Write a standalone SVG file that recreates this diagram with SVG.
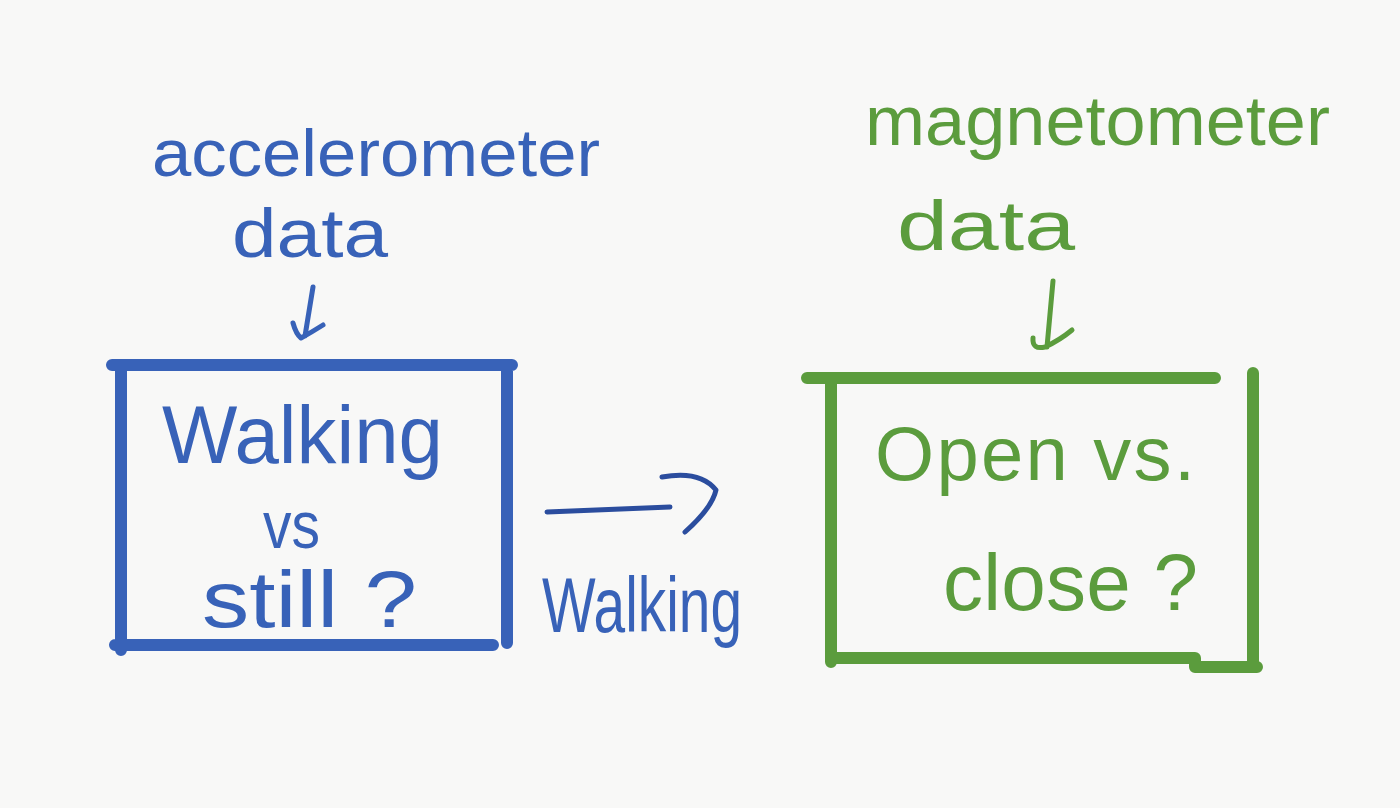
<svg xmlns="http://www.w3.org/2000/svg" width="1400" height="808" viewBox="0 0 1400 808">
<style>
.bl{stroke:#3862b8;fill:none;stroke-linecap:round;stroke-linejoin:round}
.gr{stroke:#5b9c3d;fill:none;stroke-linecap:round;stroke-linejoin:round}
.box{stroke-width:12}
.pen{stroke-width:5}
.tb{fill:#3862b8;font-family:"Liberation Sans","DejaVu Sans",sans-serif}
.tg{fill:#5b9c3d;font-family:"Liberation Sans","DejaVu Sans",sans-serif}
</style>
<rect width="1400" height="808" fill="#f8f8f7"/>
<g id="accelerometer-data">
<text class="tb" x="152" y="176" font-size="66" textLength="448" lengthAdjust="spacingAndGlyphs">accelerometer</text>
<text class="tb" x="232" y="257" font-size="68" textLength="156" lengthAdjust="spacingAndGlyphs">data</text>
<path class="bl pen" d="M313,287 L305,336 M293,323 Q296,334 301,338 Q312,332 323,325"/>
</g>
<g id="walking-vs-still">
<path class="bl box" d="M112,365 L512,365 M121,365 L121,650 M115,645 L493,645 M507,365 L507,643"/>
<text class="tb" x="162" y="463" font-size="82" textLength="281" lengthAdjust="spacingAndGlyphs">Walking</text>
<text class="tb" x="263" y="548" font-size="66" textLength="57" lengthAdjust="spacingAndGlyphs">vs</text>
<text class="tb" x="202" y="627" font-size="80" textLength="215" lengthAdjust="spacingAndGlyphs">still ?</text>
</g>
<g id="magnetometer-data">
<text class="tg" x="865" y="145" font-size="70" textLength="465" lengthAdjust="spacingAndGlyphs">magnetometer</text>
<text class="tg" x="897" y="250" font-size="70" textLength="178" lengthAdjust="spacingAndGlyphs">data</text>
<path class="gr pen" d="M1053,281 L1047,347 M1033,338 Q1032,350 1045,347 Q1060,340 1072,330"/>
</g>
<g id="open-vs-close">
<path class="gr box" d="M807,378 L1215,378 M831,378 L831,662 M831,658 L1195,658 L1195,667 L1257,667 M1253,373 L1253,667"/>
<text class="tg" x="875" y="480" font-size="76" textLength="320" lengthAdjust="spacing">Open vs.</text>
<text class="tg" x="943" y="610" font-size="80" textLength="255" lengthAdjust="spacing">close ?</text>
</g>
<g id="connectors">
<path d="M547,512 L670,507 M662,477 Q700,470 716,490 Q712,508 685,532" fill="none" stroke="#2b4d9e" stroke-width="5" stroke-linecap="round" stroke-linejoin="round"/>
<text class="tb" x="542" y="632" font-size="78" textLength="200" lengthAdjust="spacingAndGlyphs">Walking</text>
</g>
</svg>
